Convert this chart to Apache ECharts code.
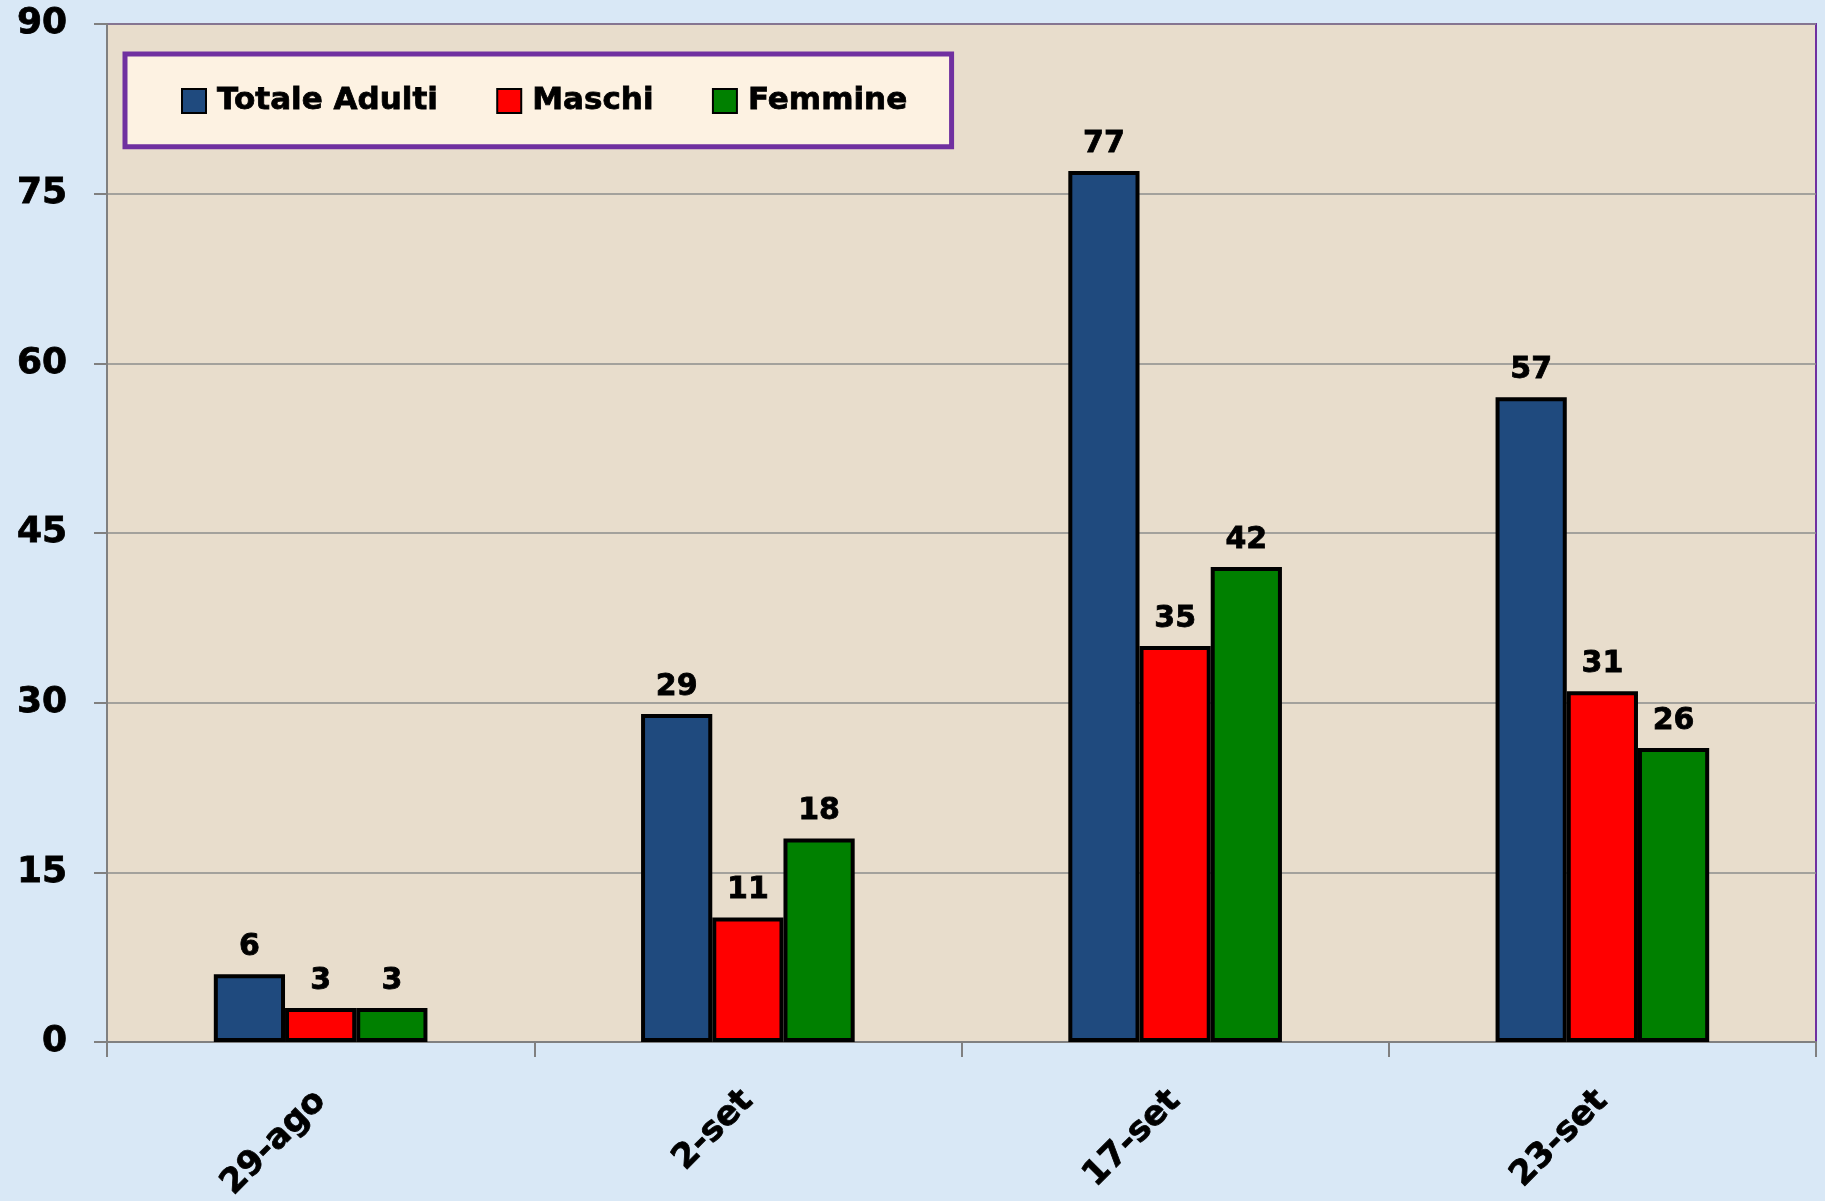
<!DOCTYPE html>
<html>
<head>
<meta charset="utf-8">
<title>Adulti</title>
<script src="https://cdn.jsdelivr.net/npm/echarts@6/dist/echarts.min.js"></script>
<style>
  html, body { margin: 0; padding: 0; background: #d9e8f6; }
  #chart { width: 1825px; height: 1201px; }
</style>
</head>
<body>
<div id="chart"></div>
<script>
// dati
const categories = ['29-ago', '2-set', '17-set', '23-set']
const totaleAdulti = [6, 29, 77, 57]
const maschi = [3, 11, 35, 31]
const femmine = [3, 18, 42, 26]
const seriesNames = ['Totale Adulti', 'Maschi', 'Femmine']
const seriesColors = ['#1f4a7e', '#ff0000', '#008000']

const font = 'DejaVu Sans'
// testo più "pesante", come nel grafico originale
const heavy = { color: '#000', fontFamily: font, fontWeight: 'bold', textBorderColor: '#000', textBorderWidth: 0.8 }

const chart = echarts.init(document.getElementById('chart'))

const makeSeries = (name, data, color) => ({
  name: name,
  type: 'bar',
  data: data,
  barGap: '0%',
  barCategoryGap: '50%',
  itemStyle: {
    color: color,
    borderColor: '#000',
    borderWidth: 4
  },
  label: Object.assign({
    show: true,
    position: 'top',
    distance: 12,
    fontSize: 30
  }, heavy)
})

chart.setOption({
  backgroundColor: '#d9e8f6',
  animation: false,
  grid: {
    left: 107,
    top: 24,
    right: 9,
    bottom: 159,
    outerBoundsMode: 'none',
    show: true,
    backgroundColor: '#e8ddcc',
    borderColor: '#7030a0',
    borderWidth: 2
  },
  legend: {
    left: 125,
    top: 54,
    padding: [31, 44, 30, 56],
    itemGap: 58,
    itemWidth: 24,
    itemHeight: 24,
    icon: 'rect',
    backgroundColor: '#fdf2e2',
    borderColor: '#7030a0',
    borderWidth: 5,
    textStyle: Object.assign({
      fontSize: 31,
      padding: [0, 0, 0, 6]
    }, heavy),
    data: seriesNames
  },
  xAxis: {
    type: 'category',
    data: categories,
    axisLine: { lineStyle: { color: '#808080', width: 2 } },
    axisTick: { show: true, length: 15, lineStyle: { color: '#808080', width: 2 } },
    axisLabel: Object.assign({
      rotate: 45,
      margin: 54,
      fontSize: 34
    }, heavy)
  },
  yAxis: {
    type: 'value',
    min: 0,
    max: 90,
    interval: 15,
    axisLine: { show: true, lineStyle: { color: '#808080', width: 2 } },
    axisTick: { show: true, length: 13, lineStyle: { color: '#808080', width: 2 } },
    splitLine: { lineStyle: { color: '#8c8c8c', width: 1.5 } },
    axisLabel: Object.assign({
      margin: 40,
      fontSize: 36
    }, heavy)
  },
  series: [
    makeSeries(seriesNames[0], totaleAdulti, seriesColors[0]),
    makeSeries(seriesNames[1], maschi, seriesColors[1]),
    makeSeries(seriesNames[2], femmine, seriesColors[2])
  ]
})
</script>
</body>
</html>
